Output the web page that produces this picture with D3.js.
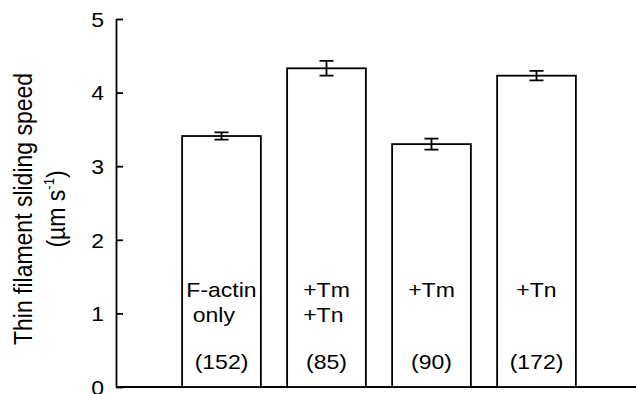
<!DOCTYPE html>
<html>
<head>
<meta charset="utf-8">
<script src="https://cdn.jsdelivr.net/npm/d3@7"></script>
<style>
  html, body { margin: 0; padding: 0; background: #fff; }
  svg { display: block; }
  text { font-family: "Liberation Sans", Arial, Helvetica, sans-serif; fill: #000; }
</style>
</head>
<body>
<div id="chart"></div>
<script>
// data
const categories = ["F-actin only", "+Tm +Tn", "+Tm", "+Tn"];
const labelLines = [["F-actin", "\u00a0only"], ["+Tm", "+Tn"], ["+Tm"], ["+Tn"]];
const speeds = [3.41, 4.33, 3.30, 4.23];
const errors = [0.05, 0.10, 0.075, 0.065];
const counts = [152, 85, 90, 172];
const yTicks = [0, 1, 2, 3, 4, 5];

const width = 636, height = 394;
const stretch = 1.15;   // the scanned figure is a bit wider than tall
const lw = 1.8;

const rows = categories.map((c, i) => ({
  cat: c, lines: labelLines[i], v: speeds[i], e: errors[i], n: counts[i]
}));

const svg = d3.select('#chart').append('svg')
  .attr('width', width).attr('height', height);

const axisX = 116;
const y = d3.scaleLinear().domain([0, 5]).range([387, 19]);
const x = d3.scaleBand().domain(categories)
  .range([169, 589]).paddingInner(0.25).paddingOuter(0.125);

// y axis, ticks pointing inwards
const yAxis = svg.append('g')
  .attr('transform', `translate(${axisX},0)`)
  .call(d3.axisLeft(y).tickValues(yTicks).tickFormat(d3.format('d'))
    .tickSizeInner(-7).tickSizeOuter(0).tickPadding(12));
yAxis.select('.domain').attr('stroke', '#000').attr('stroke-width', lw);
yAxis.selectAll('.tick line').attr('stroke', '#000').attr('stroke-width', lw);
yAxis.selectAll('.tick text')
  .attr('x', 0).attr('dy', '0.36em')
  .attr('transform', `translate(-12,0) scale(${stretch},1)`)
  .attr('font-size', 20).attr('fill', '#000')
  .style('font-family', '"Liberation Sans", Arial, sans-serif');

// baseline
svg.append('line')
  .attr('x1', axisX).attr('x2', width)
  .attr('y1', y(0)).attr('y2', y(0))
  .attr('stroke', '#000').attr('stroke-width', lw);

// bars
const bar = svg.selectAll('.bar').data(rows)
  .join('g').attr('class', 'bar');

bar.append('rect')
  .attr('x', d => x(d.cat))
  .attr('y', d => y(d.v))
  .attr('width', x.bandwidth())
  .attr('height', d => y(0) - y(d.v))
  .attr('fill', '#fff').attr('stroke', '#000').attr('stroke-width', lw);

// error bars
const capW = 14;
const cx = d => x(d.cat) + x.bandwidth() / 2;
bar.append('path')
  .attr('d', d => `M${cx(d)},${y(d.v + d.e)}V${y(d.v - d.e)}` +
    `M${cx(d) - capW / 2},${y(d.v + d.e)}h${capW}` +
    `M${cx(d) - capW / 2},${y(d.v - d.e)}h${capW}`)
  .attr('fill', 'none').attr('stroke', '#000').attr('stroke-width', lw);

// labels inside bars, left aligned block centred in the bar
bar.each(function(d) {
  const g = d3.select(this);
  const t = g.selectAll('.cat-label').data(d.lines)
    .join('text').attr('class', 'cat-label')
    .attr('font-size', 20)
    .text(s => s);
  const w = d3.max(t.nodes(), n => n.getComputedTextLength()) * stretch;
  const left = cx(d) - w / 2;
  t.attr('transform', (s, i) => `translate(${left},${y(0) - 90 + i * 25}) scale(${stretch},1)`);
});

bar.append('text')
  .attr('text-anchor', 'middle')
  .attr('font-size', 20)
  .attr('transform', d => `translate(${cx(d)},${y(0) - 18}) scale(${stretch},1)`)
  .text(d => `(${d.n})`);

// y title
const title = svg.append('text')
  .attr('text-anchor', 'middle')
  .attr('font-size', 23)
  .attr('transform', `translate(32,209) scale(${stretch},1) rotate(-90)`);
title.append('tspan').attr('x', 0).attr('dy', 0).text('Thin filament sliding speed');
const l2 = title.append('tspan').attr('x', 0).attr('dy', 29);
l2.append('tspan').text('(\u00b5m s');
l2.append('tspan').attr('font-size', 13).attr('dy', -10).text('-1');
title.append('tspan').attr('dy', 10).text(')');
</script>
</body>
</html>
